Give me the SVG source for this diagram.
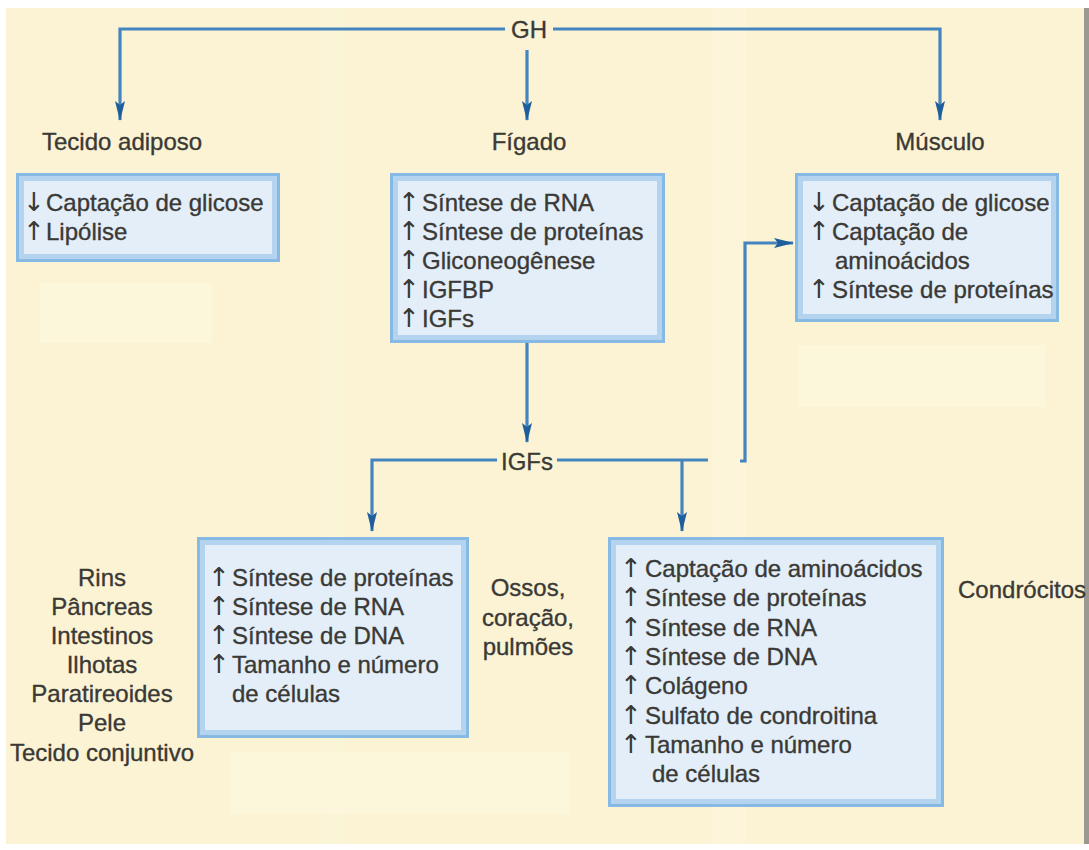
<svg xmlns="http://www.w3.org/2000/svg" width="1089" height="850" viewBox="0 0 1089 850">
<defs>
<style>
.t{font-family:"Liberation Sans",Arial,sans-serif;font-size:24px;fill:#3a3936;stroke:#3a3936;stroke-width:0.35}
.a{font-family:"DejaVu Sans",sans-serif;font-size:26px;fill:#3a3936}
.c{text-anchor:middle}
.ln{fill:none;stroke:#4585bf;stroke-width:3.2}
.bo{fill:#86b9e3}
.bm{fill:#b3d3ee}
.bi{fill:#e3eef8}
</style>
<marker id="ah" viewBox="0 0 20 12" refX="19" refY="6" markerWidth="20" markerHeight="12" markerUnits="userSpaceOnUse" orient="auto">
<path d="M0,1 L20,6 L0,11 L4,6 Z" fill="#1f5e9c"/>
</marker>
</defs>
<rect x="0" y="0" width="1089" height="850" fill="#ffffff"/>
<rect x="6" y="8" width="1079" height="836" fill="#fbf3d3"/>
<rect x="1084" y="8" width="5" height="836" fill="#9a9890"/>
<g id="patches" fill="#fdf8e0">
<rect x="712" y="8" width="34" height="836" opacity="0.5"/>
<rect x="322" y="8" width="24" height="836" opacity="0.35"/>
<rect x="40" y="283" width="172" height="60" opacity="0.6"/>
<rect x="798" y="345" width="247" height="62" opacity="0.6"/>
<rect x="230" y="752" width="340" height="62" opacity="0.6"/>
</g>
<g id="connectors">
<path class="ln" d="M505,29 H120 V120" marker-end="url(#ah)"/>
<path class="ln" d="M527,50 V120" marker-end="url(#ah)"/>
<path class="ln" d="M553,29 H940 V120" marker-end="url(#ah)"/>
<path class="ln" d="M527,343 V442" marker-end="url(#ah)"/>
<path class="ln" d="M497,460 H372 V531" marker-end="url(#ah)"/>
<path class="ln" d="M557,460 H708"/>
<path class="ln" d="M682,460 V531" marker-end="url(#ah)"/>
<path class="ln" d="M740,461 H745 V243 H793" marker-end="url(#ah)"/>
</g>
<g id="gh"><text class="t c" x="529" y="38">GH</text></g>
<g id="lbl-adiposo"><text class="t" x="42" y="150">Tecido adiposo</text></g>
<g id="lbl-figado"><text class="t c" x="529" y="150">Fígado</text></g>
<g id="lbl-musculo"><text class="t c" x="940" y="150">Músculo</text></g>
<g id="box-adiposo">
<rect class="bo" x="16" y="173" width="264" height="89"/>
<rect class="bm" x="19" y="176" width="258" height="83"/>
<rect class="bi" x="24" y="181" width="248" height="73"/>
<text class="a" x="23" y="211">↓</text><text class="t" x="46" y="211">Captação de glicose</text>
<text class="a" x="23" y="240">↑</text><text class="t" x="46" y="240">Lipólise</text>
</g>
<g id="box-figado">
<rect class="bo" x="390" y="173" width="275" height="170"/>
<rect class="bm" x="393" y="176" width="269" height="164"/>
<rect class="bi" x="398" y="181" width="259" height="154"/>
<text class="a" x="398" y="211">↑</text><text class="t" x="422" y="211">Síntese de RNA</text>
<text class="a" x="398" y="240">↑</text><text class="t" x="422" y="240">Síntese de proteínas</text>
<text class="a" x="398" y="269">↑</text><text class="t" x="422" y="269">Gliconeogênese</text>
<text class="a" x="398" y="298">↑</text><text class="t" x="422" y="298">IGFBP</text>
<text class="a" x="398" y="327">↑</text><text class="t" x="422" y="327">IGFs</text>
</g>
<g id="box-musculo">
<rect class="bo" x="795" y="173" width="264" height="149"/>
<rect class="bm" x="798" y="176" width="258" height="143"/>
<rect class="bi" x="803" y="181" width="248" height="133"/>
<text class="a" x="808" y="211">↓</text><text class="t" x="832" y="211">Captação de glicose</text>
<text class="a" x="808" y="240">↑</text><text class="t" x="832" y="240">Captação de</text>
<text class="t" x="835" y="269">aminoácidos</text>
<text class="a" x="808" y="298">↑</text><text class="t" x="832" y="298">Síntese de proteínas</text>
</g>
<g id="igfs"><text class="t c" x="527" y="470">IGFs</text></g>
<g id="box-tecidos">
<rect class="bo" x="197" y="537" width="272" height="201"/>
<rect class="bm" x="200" y="540" width="266" height="195"/>
<rect class="bi" x="205" y="545" width="256" height="185"/>
<text class="a" x="208" y="586">↑</text><text class="t" x="232" y="586">Síntese de proteínas</text>
<text class="a" x="208" y="615">↑</text><text class="t" x="232" y="615">Síntese de RNA</text>
<text class="a" x="208" y="644">↑</text><text class="t" x="232" y="644">Síntese de DNA</text>
<text class="a" x="208" y="673">↑</text><text class="t" x="232" y="673">Tamanho e número</text>
<text class="t" x="232" y="702">de células</text>
</g>
<g id="lbl-orgaos">
<text class="t c" x="102" y="586">Rins</text>
<text class="t c" x="102" y="615">Pâncreas</text>
<text class="t c" x="102" y="644">Intestinos</text>
<text class="t c" x="102" y="673">Ilhotas</text>
<text class="t c" x="102" y="702">Paratireoides</text>
<text class="t c" x="102" y="731">Pele</text>
<text class="t c" x="102" y="761">Tecido conjuntivo</text>
</g>
<g id="lbl-ossos">
<text class="t c" x="528" y="596">Ossos,</text>
<text class="t c" x="528" y="626">coração,</text>
<text class="t c" x="528" y="655">pulmões</text>
</g>
<g id="box-condrocitos">
<rect class="bo" x="608" y="537" width="336" height="270"/>
<rect class="bm" x="611" y="540" width="330" height="264"/>
<rect class="bi" x="616" y="545" width="320" height="254"/>
<text class="a" x="620" y="577">↑</text><text class="t" x="645" y="577">Captação de aminoácidos</text>
<text class="a" x="620" y="606">↑</text><text class="t" x="645" y="606">Síntese de proteínas</text>
<text class="a" x="620" y="636">↑</text><text class="t" x="645" y="636">Síntese de RNA</text>
<text class="a" x="620" y="665">↑</text><text class="t" x="645" y="665">Síntese de DNA</text>
<text class="a" x="620" y="694">↑</text><text class="t" x="645" y="694">Colágeno</text>
<text class="a" x="620" y="724">↑</text><text class="t" x="645" y="724">Sulfato de condroitina</text>
<text class="a" x="620" y="753">↑</text><text class="t" x="645" y="753">Tamanho e número</text>
<text class="t" x="652" y="782">de células</text>
</g>
<g id="lbl-condrocitos"><text class="t" x="958" y="598">Condrócitos</text></g>
</svg>
